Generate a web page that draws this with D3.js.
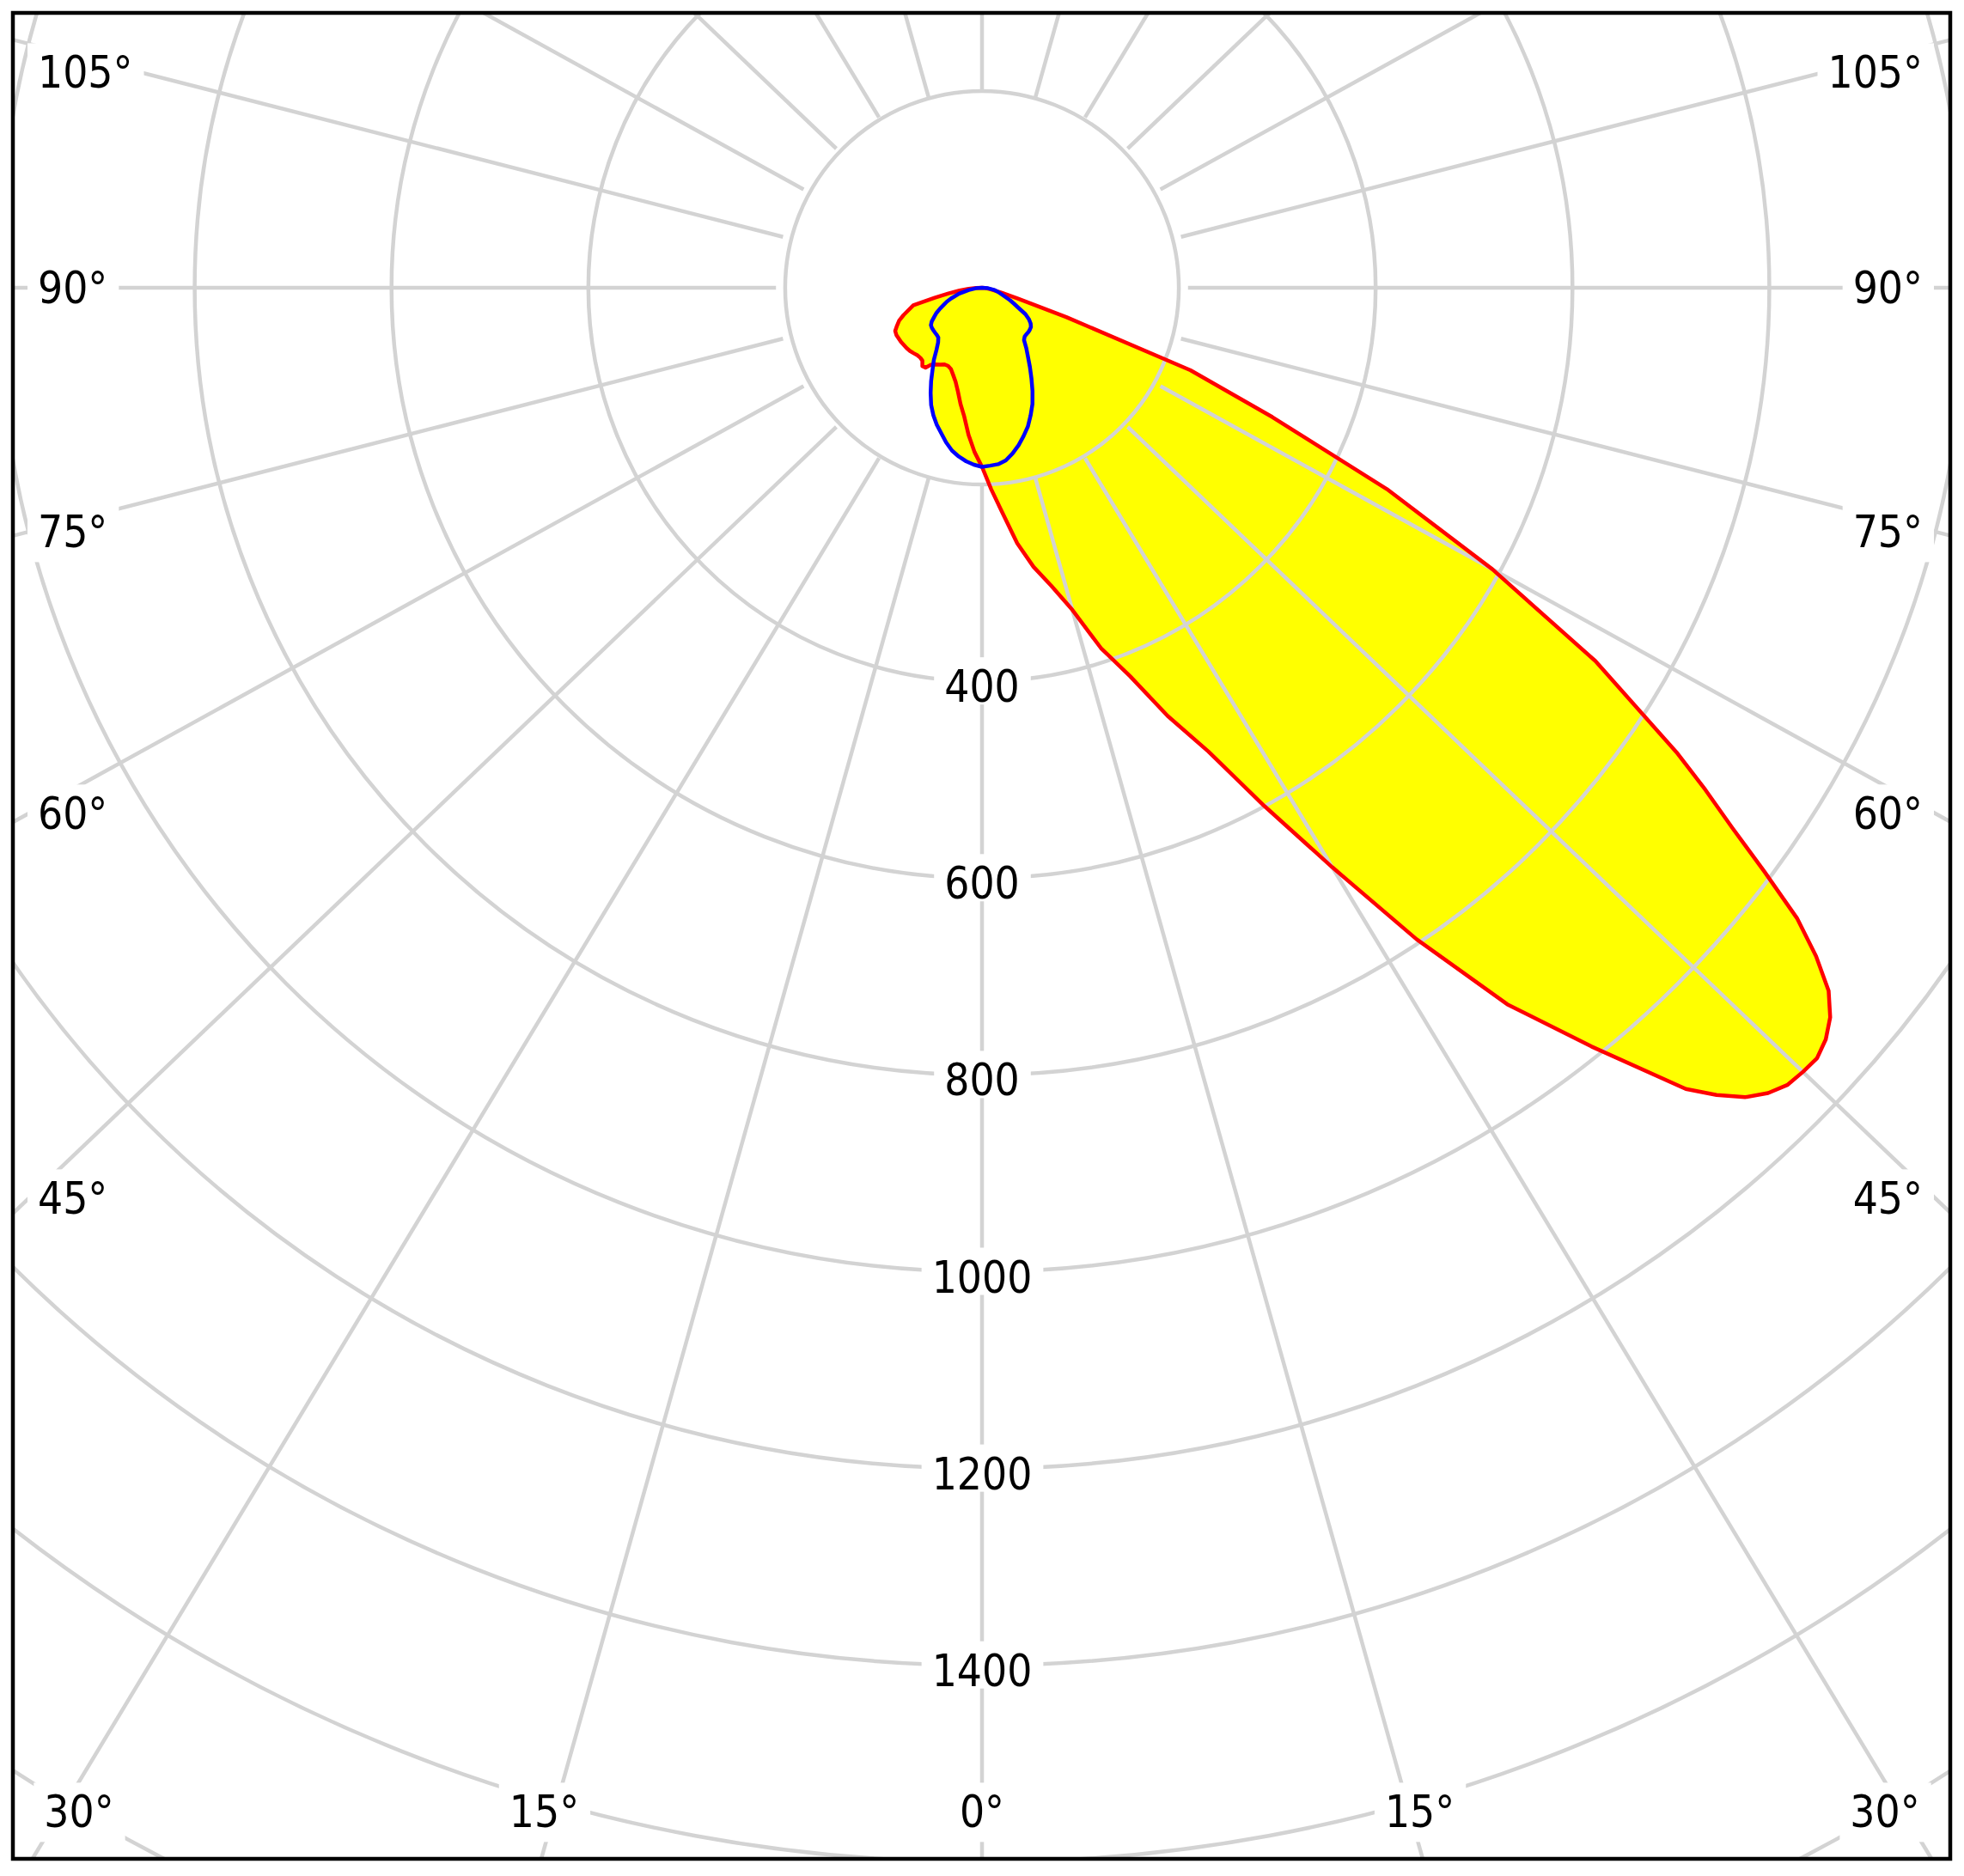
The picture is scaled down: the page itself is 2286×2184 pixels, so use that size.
<!DOCTYPE html>
<html>
<head>
<meta charset="utf-8">
<script src="https://cdn.jsdelivr.net/npm/d3@7"></script>
<style>
html, body { margin: 0; padding: 0; background: #ffffff; }
svg { display: block; }
</style>
</head>
<body>
<svg id="chart" width="2286" height="2184"></svg>
<script>
// ---------------- data (cd per 1000 lm) ----------------
// C0 plane (right half of the red curve)
const gammaC0  = [0, 2.5, 5, 7.5, 10, 12.5, 15, 17.5, 20, 22.5, 25, 27.5, 30, 32.5, 35, 37.5,
                  40, 41, 42, 43, 44, 45, 46, 47, 48, 49, 50, 51, 52, 53, 54, 55, 57.5, 60,
                  62.5, 65, 67.5, 70, 72.5, 75, 80, 85, 90, 180];
const valuesC0 = [182, 205, 230, 262, 288, 310, 339, 384, 420, 471, 520, 594, 680, 785, 889, 972,
                  1063, 1087, 1107, 1119, 1126, 1127, 1127, 1120, 1108, 1089, 1057, 1018, 964, 912, 868, 823, 706, 572,
                  443, 311, 219, 87, 36, 20, 8, 3, 0, 0];
// C180 plane (left half of the red curve)
const gammaC180  = [0, 2.5, 5, 7.5, 10, 12.5, 15, 17.5, 20, 22.5, 25, 27.5, 30, 32.5, 34, 36,
                    38, 40, 42.5, 45, 47.5, 50, 55, 60, 62.5, 65, 67.5, 70, 75, 77.5, 80, 82.5, 85, 87.5, 90, 180];
const valuesC180 = [182, 167, 150, 132, 120, 108, 99, 93, 88, 86, 86, 88, 90, 93, 98, 98.5,
                    94, 93, 93, 94, 95, 95.5, 96, 96, 95, 91, 87, 81, 69, 47, 33, 22, 13, 6, 0, 0];
// C90 plane (right half of the blue curve)
const gammaC90  = [0, 2.5, 5, 7.5, 10, 12.5, 15, 17.5, 20, 22.5, 25, 27.5, 30, 32.5, 35, 37.5,
                   40, 42.5, 45, 47.5, 50, 52.5, 55, 57.5, 60, 62.5, 65, 70, 75, 80, 85, 90, 180];
const valuesC90 = [182, 181, 180, 177, 171, 164, 156, 148, 138, 128, 116, 104, 93, 83, 75, 67,
                   64.5, 64, 63.7, 63, 62, 59.5, 55.5, 50, 41, 35, 30, 21, 16, 11.6, 6, 0, 0];
// C270 plane (left half of the blue curve)
const gammaC270  = [0, 2.5, 5, 7.5, 10, 12.5, 15, 17.5, 20, 22.5, 25, 27.5, 30, 32.5, 35, 37.5,
                    40, 42.5, 45, 47.5, 50, 52.5, 55, 57.5, 60, 62.5, 65, 67.5, 70, 75, 80, 85, 90, 180];
const valuesC270 = [182, 180, 177, 173, 168, 161, 153, 146, 138, 129, 118, 107, 96, 87, 77, 70,
                    66, 65, 64.5, 64, 63.5, 62.5, 59.5, 55, 51, 46, 41, 37, 32, 23, 13, 6, 0, 0];

// grid / tick definitions
const radialTicks  = [200, 400, 600, 800, 1000, 1200, 1400, 1600, 1800, 2000];
const radialLabels = [400, 600, 800, 1000, 1200, 1400];
const angleTicks   = [0, 15, 30, 45, 60, 75, 90, 105, 120, 135, 150, 165, 180];
const angleLabels  = [0, 15, 30, 45, 60, 75, 90, 105];

// ---------------- layout ----------------
const W = 2286, H = 2184;
const frame = { x: 15, y: 15, w: 2255, h: 2149 };
const cx = 1143, cy = 335;
const kx = W / H;            // horizontal stretch of the angular geometry
const FONT = "'DejaVu Sans Condensed', 'DejaVu Sans', sans-serif";
const FS = 51;
const GRID = '#d3d3d3';

const r = d3.scaleLinear().domain([0, 2000]).range([0, 2291]);
const rad = d => d * Math.PI / 180;

const svg = d3.select('#chart');
svg.append('rect').attr('width', W).attr('height', H).attr('fill', '#ffffff');

const defs = svg.append('defs');
defs.append('clipPath').attr('id', 'frameClip')
  .append('rect').attr('x', frame.x).attr('y', frame.y).attr('width', frame.w).attr('height', frame.h);

const plot = svg.append('g').attr('clip-path', 'url(#frameClip)');
const gc = plot.append('g').attr('transform', `translate(${cx},${cy})`);

// polar outline: right half uses +sin, left half -sin; gamma measured from straight down
function outline(gR, vR, gL, vL) {
  const pts = [];
  gR.forEach((g, i) => pts.push({ g, s: 1, v: vR[i] }));
  for (let i = gL.length - 1; i >= 0; i--) pts.push({ g: gL[i], s: -1, v: vL[i] });
  return pts;
}
const polarLine = d3.line()
  .x(d => d.s * kx * r(d.v) * Math.sin(rad(d.g)))
  .y(d => r(d.v) * Math.cos(rad(d.g)))
  .curve(d3.curveLinearClosed);

const redPts  = outline(gammaC0, valuesC0, gammaC180, valuesC180);
const bluePts = outline(gammaC90, valuesC90, gammaC270, valuesC270);

// yellow fills
gc.append('path').attr('d', polarLine(redPts)).attr('fill', '#ffff00').attr('stroke', 'none');
gc.append('path').attr('d', polarLine(bluePts)).attr('fill', '#ffff00').attr('stroke', 'none');

// grid circles
gc.selectAll('circle.grid').data(radialTicks).join('circle')
  .attr('class', 'grid').attr('cx', 0).attr('cy', 0).attr('r', d => r(d))
  .attr('fill', 'none').attr('stroke', GRID).attr('stroke-width', 4.5);

// radial grid lines (both sides), starting at the 200 circle
const spokes = [];
angleTicks.forEach(g => { spokes.push({ g, s: 1 }); if (g !== 0 && g !== 180) spokes.push({ g, s: -1 }); });
const r0 = radialTicks[0];
gc.selectAll('line.spoke').data(spokes).join('line')
  .attr('class', 'spoke')
  .attr('x1', d => d.s * kx * r(r0) * Math.sin(rad(d.g)))
  .attr('y1', d => r(r0) * Math.cos(rad(d.g)))
  .attr('x2', d => d.s * kx * r(2600) * Math.sin(rad(d.g)))
  .attr('y2', d => r(2600) * Math.cos(rad(d.g)))
  .attr('stroke', GRID).attr('stroke-width', 4.5);

// ---------------- labels with white background ----------------
const labelLayer = svg.append('g');
function addLabel(text, x, baseline, anchor, pad) {
  const g = labelLayer.append('g');
  const bg = g.append('rect').attr('fill', '#ffffff');
  const t = g.append('text').text(text)
    .attr('x', x).attr('y', baseline)
    .attr('text-anchor', anchor)
    .attr('font-family', FONT).attr('font-size', FS).attr('fill', '#000000');
  const bb = t.node().getBBox();
  bg.attr('x', bb.x - pad.l).attr('y', baseline - pad.t)
    .attr('width', bb.width + pad.l + pad.r).attr('height', pad.t + pad.b);
}

// value labels along the 0 deg spoke
radialLabels.forEach(v => {
  addLabel(String(v), cx, cy + r(v) + 24, 'middle', { l: 12, r: 13, t: 52, b: 3 });
});

// angle labels at the frame
const sideL = 44, sideR = 2238, sideD = 1060, bottomC = 2109, bottomTop = 2085, topC = 84;
const capHalf = 0.36 * FS;
angleLabels.forEach(g => {
  const sides = g === 0 ? [0] : [-1, 1];
  sides.forEach(s => {
    const txt = g + '\u00B0';
    const pad = { l: 12, r: 13, t: 52, b: 17 };
    if (g === 0) {
      addLabel(txt, cx, bottomC + capHalf, 'middle', pad);
      return;
    }
    const a = rad(g);
    let yc = cy + sideD * Math.cos(a) / Math.sin(a);
    if (yc > bottomC) {
      const x = cx + s * (bottomTop - cy) * Math.tan(a);
      addLabel(txt, x, bottomC + capHalf, s > 0 ? 'start' : 'end', pad);
    } else {
      yc = Math.max(yc, topC);
      addLabel(txt, s > 0 ? sideR : sideL, yc + capHalf, s > 0 ? 'end' : 'start', pad);
    }
  });
});

// ---------------- curve outlines ----------------
const gl = svg.append('g').attr('clip-path', 'url(#frameClip)')
  .append('g').attr('transform', `translate(${cx},${cy})`);
gl.append('path').attr('d', polarLine(redPts)).attr('fill', 'none')
  .attr('stroke', '#ff0000').attr('stroke-width', 4.5).attr('stroke-linejoin', 'round');
gl.append('path').attr('d', polarLine(bluePts)).attr('fill', 'none')
  .attr('stroke', '#0000ff').attr('stroke-width', 4.5).attr('stroke-linejoin', 'round');

// frame
svg.append('rect').attr('x', frame.x).attr('y', frame.y).attr('width', frame.w).attr('height', frame.h)
  .attr('fill', 'none').attr('stroke', '#000000').attr('stroke-width', 4.5);
</script>
</body>
</html>
